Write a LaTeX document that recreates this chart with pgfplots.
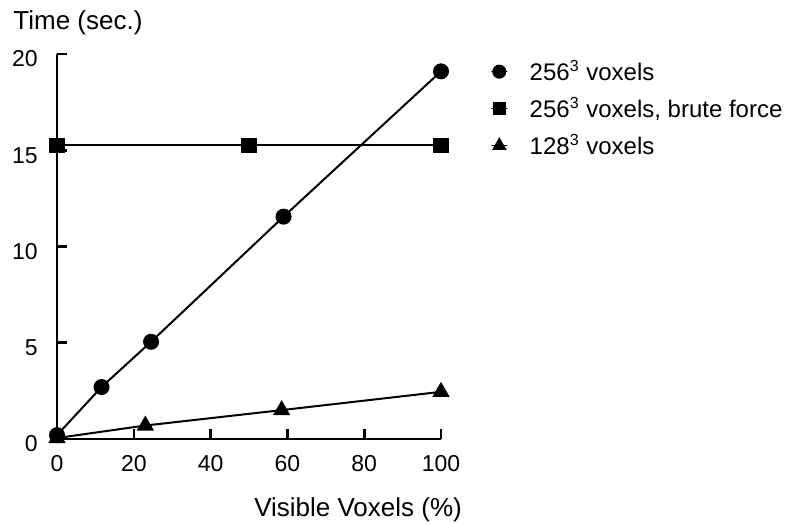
\documentclass[border=0pt]{standalone}
\usepackage{pgfplots}
\pgfplotsset{compat=1.18}
\usepackage{fontspec}
\setmainfont{Liberation Sans}
\begin{document}
\begin{tikzpicture}
\path[use as bounding box] (-28.5pt,-42.5pt) rectangle (364.5pt,219.5pt);
\begin{axis}[
  at={(0pt,0pt)}, anchor=south west,
  scale only axis,
  width=192pt, height=192.5pt,
  xmin=0, xmax=100, ymin=0, ymax=20,
  axis lines*=left,
  axis line style={line width=1.3pt, black},
  tick style={line width=1.3pt, black},
  major tick length=5pt,
  tick align=inside,
  xtick={0,20,40,60,80,100},
  ytick={0,5,10,15,20},
  /pgf/number format/assume math mode=true,
  xticklabel style={font=\fontsize{11.5}{13}\selectfont, anchor=north, inner sep=0pt, yshift=-8pt},
  yticklabel style={font=\fontsize{11.5}{13}\selectfont, anchor=east, inner sep=0pt, xshift=-9.5pt, yshift=-2.5pt},
  xlabel={Visible Voxels (\%)},
  xlabel style={font=\fontsize{13}{15}\selectfont, at={(axis description cs:0.784,0)}, anchor=base, inner sep=0pt, yshift=-38.5pt},
  ylabel={Time (sec.)},
  ylabel style={font=\fontsize{13}{15}\selectfont, rotate=-90, at={(axis description cs:0,1)}, anchor=base west, inner sep=0pt, xshift=-22pt, yshift=12.1pt},
  clip=false,
  legend image code/.code={\path (-4pt,0pt) rectangle (4pt,0pt); \path[#1, draw=black, fill=black] plot[only marks] coordinates {(0pt,0pt)};},
  legend style={draw=none, fill=none, inner sep=0pt, outer sep=0pt,
    at={(axis description cs:1.130,0.9786)}, anchor=north west,
    font=\fontsize{12}{14}\selectfont,
    column sep=11pt, row sep=9.1pt,
    nodes={inner sep=0pt, text height=9pt, text depth=0.4pt}},
  legend cell align=left,
]
\addplot[black, line width=1pt, mark=*, mark size=3.5pt, forget plot] coordinates {
  (0,0.2) (11.6,2.7) (24.5,5.05) (59,11.55) (100,19.1)
};
\addplot[black, line width=1pt, mark=square*, mark size=3.3pt, forget plot] coordinates {
  (0,15.25) (50,15.25) (100,15.25)
};
\addplot[black, line width=1pt, mark=triangle*, mark size=4pt, forget plot] coordinates {
  (0,0.05) (23,0.7) (58.5,1.5) (100,2.45)
};
\addlegendimage{only marks, black, mark=*, mark size=3.3pt}
\addlegendentry{256\textsuperscript{3} voxels}
\addlegendimage{only marks, black, mark=square*, mark size=3pt}
\addlegendentry{256\textsuperscript{3} voxels, brute force}
\addlegendimage{only marks, black, mark=triangle*, mark size=3.8pt}
\addlegendentry{128\textsuperscript{3} voxels}
\end{axis}
\end{tikzpicture}
\end{document}
